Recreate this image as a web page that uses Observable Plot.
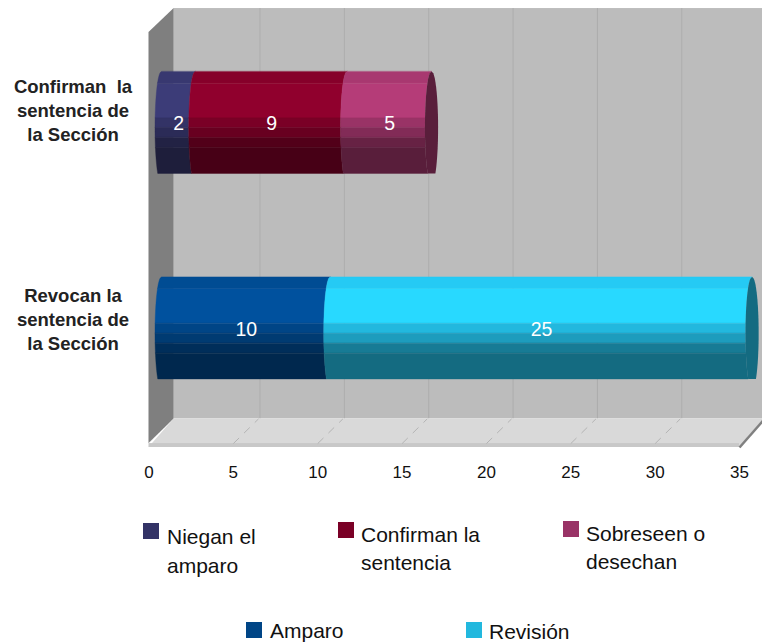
<!DOCTYPE html>
<html>
<head>
<meta charset="utf-8">
<script src="https://cdn.jsdelivr.net/npm/d3@7"></script>
<script src="https://cdn.jsdelivr.net/npm/@observablehq/plot@0.6"></script>
<style>
html,body{margin:0;padding:0;background:#fff}
#root{position:relative;width:762px;height:642px;overflow:hidden;font-family:"Liberation Sans",Arial,sans-serif}
#root svg{position:absolute;left:0;top:0;display:block}
.sw{position:absolute;width:16px;height:16px}
.lb{position:absolute;font-size:21px;color:#111;white-space:pre}
</style>
</head>
<body>
<div id="root"></div>
<script>
const categories = ["Confirman  la\nsentencia de\nla Sección", "Revocan la\nsentencia de\nla Sección"];
const topNames = ["Niegan el\namparo", "Confirman la\nsentencia", "Sobreseen o\ndesechan"];
const topValues = [2, 9, 5];
const topColors = ["#333366", "#7a0026", "#993366"];
const bottomNames = ["Amparo", "Revisión"];
const bottomValues = [10, 25];
const bottomColors = ["#004586", "#22b8de"];
const xTicks = [0, 5, 10, 15, 20, 25, 30, 35];

// cylinder shading bands (fraction of the height, brightness)
const bandEdges = [0, 0.114, 0.455, 0.552, 0.649, 0.747, 1];
const bandShade = [1.1, 1.18, 1.0, 0.85, 0.67, 0.58];

// 3D frame, in axis units
const depthX = 1.49, gridDepth = 1.58, barStart = 0.385, arc = 0.38, capShift = 0.02;
const wallTop = -0.557, wallTopFront = -0.44, floorBack = 1.44, floorStrip = 1.56, floorFront = 1.579, radius = 0.248;
const wallEnd = 37;

const shade = (c, k) => { const r = d3.rgb(c); return d3.rgb(Math.min(255, r.r * k), Math.min(255, r.g * k), Math.min(255, r.b * k)).formatHex(); };
const bow = t => { const s = Math.max(-1, Math.min(1, (t - 0.1) / 1.1)); return arc * (1 - Math.sqrt(1 - s * s)); };

const stripes = [], caps = [], labels = [];
[[topValues, topColors], [bottomValues, bottomColors]].forEach(([vals, cols], row) => {
  let sum = 0;
  vals.forEach((v, i) => {
    const a = sum + barStart, b = sum + v + barStart;
    bandShade.forEach((k, j) => {
      const f0 = bandEdges[j], f1 = bandEdges[j + 1];
      d3.range(0, 13).forEach(n => {
        const f = f0 + (f1 - f0) * n / 12, t = 2 * f - 1;
        stripes.push({id: `${row}-${i}-${j}`, x1: a + bow(t), x2: b + bow(t), y: row + radius * t, fill: shade(cols[i], k)});
      });
    });
    labels.push({x: (a + b) / 2 + arc, row, text: String(v)});
    sum += v;
  });
  const end = sum + barStart;
  d3.range(0, 61).forEach(n => {
    const t = -1 + n / 30, w = arc * Math.sqrt(Math.max(0, 1 - ((t - 0.1) / 1.1) ** 2));
    caps.push({id: row, x1: end + bow(t), x2: end + arc + capShift + w, y: row + radius * t, fill: shade(cols[cols.length - 1], 0.58)});
  });
});

const plot = Plot.plot({
  width: 762, height: 500,
  marginTop: 0, marginLeft: 148.5, marginRight: 23, marginBottom: 53,
  style: {background: "transparent", fontFamily: "'Liberation Sans',Arial,sans-serif", overflow: "hidden"},
  x: {domain: [0, 35], axis: null},
  y: {domain: [-0.5, 1.5], range: [19.75, 430.75], axis: null},
  color: {type: "identity"},
  marks: [
    // back wall
    Plot.rect([0], {x1: depthX, x2: wallEnd, y1: wallTop, y2: floorBack, fill: "#bcbcbc"}),
    Plot.ruleX(xTicks.slice(1, -1), {x: d => d + gridDepth, y1: wallTop, y2: floorBack, stroke: "#adadad", strokeWidth: 1}),
    // left wall
    Plot.areaY([{x: 0, y1: wallTopFront, y2: floorStrip}, {x: depthX, y1: wallTop, y2: floorBack}], {x: "x", y1: "y1", y2: "y2", fill: "#7f7f7f", curve: "linear"}),
    // floor
    Plot.areaX([{y: floorBack, x1: depthX, x2: 35 + depthX}, {y: floorFront, x1: 0, x2: 35}], {x1: "x1", x2: "x2", y: "y", fill: "#d9d9d9", curve: "linear"}),
    Plot.areaY([{x: 0, y1: floorStrip - 0.002, y2: floorStrip}, {x: depthX, y1: floorBack, y2: floorBack}], {x: "x", y1: "y1", y2: "y2", fill: "#7f7f7f", curve: "linear"}),
    Plot.rect([0], {x1: 0, x2: 35, y1: floorStrip, y2: floorFront, fill: "#c8c8c8"}),
    Plot.link(xTicks.slice(1, -1), {x1: d => d, x2: d => d + depthX, y1: floorStrip, y2: floorBack, stroke: "#b4b4b4", strokeDasharray: "8,7"}),
    Plot.link([35], {x1: d => d, x2: d => d + depthX, y1: floorFront, y2: floorBack, stroke: "#808080", strokeWidth: 2.5}),
    // cylinders
    Plot.areaX(stripes, {x1: "x1", x2: "x2", y: "y", z: "id", fill: "fill", stroke: "fill", strokeWidth: 0.4, curve: "linear"}),
    Plot.areaX(caps, {x1: "x1", x2: "x2", y: "y", z: "id", fill: "fill", curve: "linear"}),
    Plot.text(labels, {x: "x", y: "row", text: "text", fill: "white", fontSize: 19.5, dy: 1}),
    // axes
    Plot.axisX(xTicks, {anchor: "bottom", tickSize: 0, tickPadding: 18, fontSize: 17, fill: "#111", tickFormat: d => d}),
    Plot.text(categories, {ariaLabel: "categories", y: (d, i) => i + (i ? -0.005 : -0.022), text: d => d, frameAnchor: "left", dx: -76, textAnchor: "middle", fontSize: 18.5, fontWeight: "bold", lineHeight: 1.3, dy: -9, fill: "#222"})
  ]
});
d3.select(plot).selectAll('g[aria-label="categories"] text').style("letter-spacing", "1.4px");

const root = document.getElementById("root");
root.appendChild(plot);
function legend(name, color, sx, sy, tx, ty, lh) {
  const s = document.createElement("div"); s.className = "sw"; s.style.cssText = `left:${sx}px;top:${sy}px;background:${color}`; root.appendChild(s);
  const l = document.createElement("div"); l.className = "lb"; l.textContent = name; l.style.cssText = `left:${tx}px;top:${ty}px;line-height:${lh}px`; root.appendChild(l);
}
legend(topNames[0], topColors[0], 143, 523, 167, 523, 28.5);
legend(topNames[1], topColors[1], 338, 522, 361, 521, 28);
legend(topNames[2], topColors[2], 563, 521, 586, 520, 27.5);
legend(bottomNames[0], bottomColors[0], 246, 622, 270, 622, 18);
legend(bottomNames[1], bottomColors[1], 466, 622, 489, 623, 18);
</script>
</body>
</html>
